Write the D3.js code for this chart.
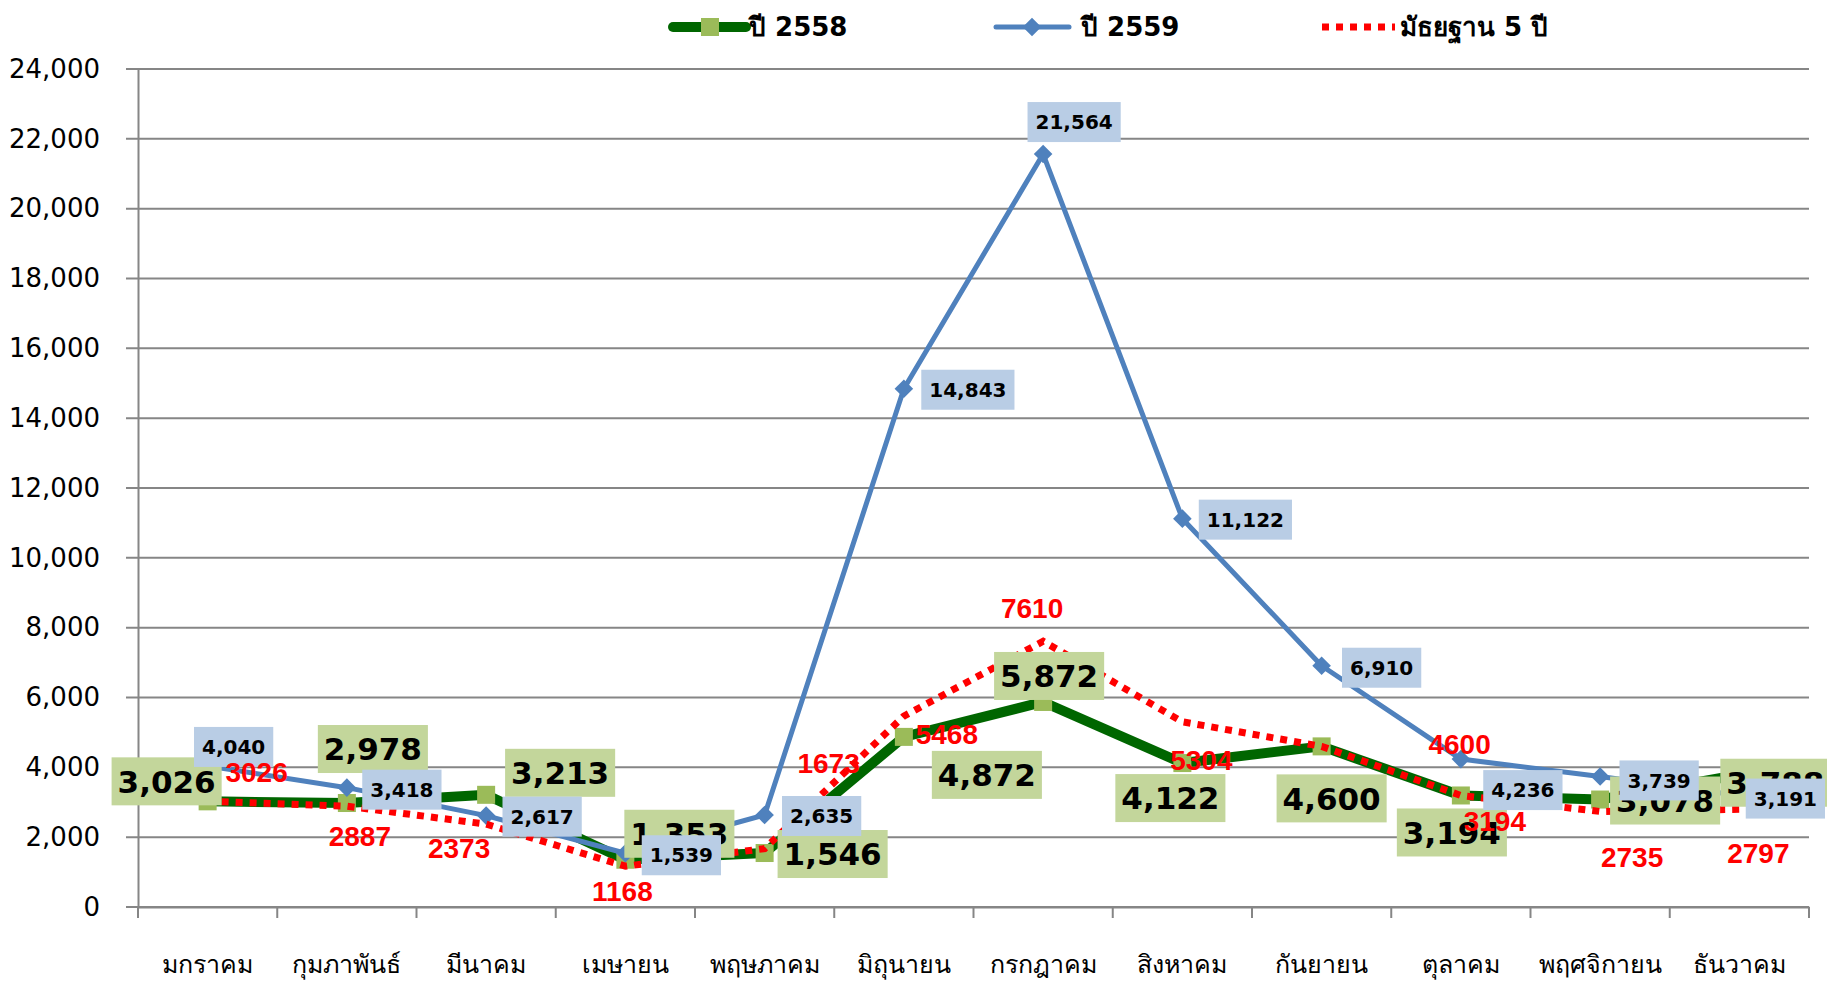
<!DOCTYPE html>
<html>
<head>
<meta charset="utf-8">
<script src="https://cdn.jsdelivr.net/npm/d3@7"></script>
<style>
body { margin: 0; background: #fff; }
svg { display: block; }
</style>
</head>
<body>
<svg id="chart"></svg>
<script>
var months = ['มกราคม', 'กุมภาพันธ์', 'มีนาคม', 'เมษายน', 'พฤษภาคม', 'มิถุนายน',
              'กรกฎาคม', 'สิงหาคม', 'กันยายน', 'ตุลาคม', 'พฤศจิกายน', 'ธันวาคม'];
var y2558 = [3026, 2978, 3213, 1353, 1546, 4872, 5872, 4122, 4600, 3194, 3078, 3788];
var y2559 = [4040, 3418, 2617, 1539, 2635, 14843, 21564, 11122, 6910, 4236, 3739, 3191];
var median5 = [3026, 2887, 2373, 1168, 1673, 5468, 7610, 5304, 4600, 3194, 2735, 2797];
var yTicks = [0, 2000, 4000, 6000, 8000, 10000, 12000, 14000, 16000, 18000, 20000, 22000, 24000];
var seriesNames = ['ปี 2558', 'ปี 2559', 'มัธยฐาน 5 ปี'];

// label offsets (px) from each point, placed by hand like in the original
var greenOff = [[-41,-20],[26,-54],[74,-22],[54,-26],[68,1],[83,38],[6,-26],[-12,35],[10,52],[-9,37],[65,1],[36,8]];
var blueOff = [[26,-19],[55,2],[56,1],[56,2],[57,1],[64,1],[31,-32],[63,1],[60,2],[62,31],[59,4],[46,3]];
var redOff = [[49,-29],[13,30],[-27,24],[-3,25],[64,-86],[43,18],[-11,-33],[19,38],[138,-2],[34,25],[32,45],[19,44]];

var width = 1827, height = 983;
var thai = "Tahoma, 'DejaVu Sans', 'Noto Sans', sans-serif";

var svg = d3.select('#chart').attr('width', width).attr('height', height);

var x = d3.scaleBand().domain(months).range([138, 1809]);
var y = d3.scaleLinear().domain([0, 24000]).range([907, 69]);
var cx = m => x(m) + x.bandwidth() / 2;

// grid
svg.append('g')
	.selectAll('line')
	.data(yTicks)
	.enter()
	.append('line')
	.attr('x1', 126).attr('x2', 1809)
	.attr('y1', d => y(d)).attr('y2', d => y(d))
	.attr('stroke', '#868686')
	.attr('stroke-width', 2);

var yAxis = svg.append('g')
	.attr('transform', 'translate(138,0)')
	.call(d3.axisLeft(y).tickValues(yTicks).tickFormat(d3.format(',')).tickSize(0).tickPadding(38));
yAxis.select('.domain').attr('stroke', '#868686').attr('stroke-width', 2);
yAxis.selectAll('text')
	.attr('font-family', "Tahoma, 'DejaVu Sans', sans-serif")
	.attr('font-size', 26)
	.attr('fill', '#000');

var xAxis = svg.append('g')
	.attr('transform', 'translate(0,907)')
	.call(d3.axisBottom(x).tickSize(0).tickPadding(48));
xAxis.select('.domain').attr('stroke', '#868686').attr('stroke-width', 2);
xAxis.selectAll('text')
	.attr('font-family', thai)
	.attr('font-size', 25)
	.attr('fill', '#000');

// category ticks at band edges
svg.append('g')
	.selectAll('line')
	.data(months.concat(['end']))
	.enter()
	.append('line')
	.attr('x1', (d, i) => i < months.length ? x(d) : x.range()[1])
	.attr('x2', (d, i) => i < months.length ? x(d) : x.range()[1])
	.attr('y1', 907).attr('y2', 918)
	.attr('stroke', '#868686')
	.attr('stroke-width', 2);

var line = d3.line().x((d, i) => cx(months[i])).y(d => y(d));

// 2558
svg.append('path')
	.datum(y2558)
	.attr('d', line)
	.attr('fill', 'none')
	.attr('stroke', '#006600')
	.attr('stroke-width', 10)
	.attr('stroke-linejoin', 'round');
svg.append('g')
	.selectAll('rect')
	.data(y2558)
	.enter()
	.append('rect')
	.attr('x', (d, i) => cx(months[i]) - 9)
	.attr('y', d => y(d) - 9)
	.attr('width', 18).attr('height', 18)
	.attr('fill', '#9bbb59');

// 2559
svg.append('path')
	.datum(y2559)
	.attr('d', line)
	.attr('fill', 'none')
	.attr('stroke', '#4f81bd')
	.attr('stroke-width', 5)
	.attr('stroke-linejoin', 'round');
svg.append('g')
	.selectAll('path')
	.data(y2559)
	.enter()
	.append('path')
	.attr('d', d3.symbol(d3.symbolDiamond2, 220))
	.attr('transform', (d, i) => `translate(${cx(months[i])},${y(d)})`)
	.attr('fill', '#4f81bd');

// median
svg.append('path')
	.datum(median5)
	.attr('d', line)
	.attr('fill', 'none')
	.attr('stroke', '#ff0000')
	.attr('stroke-width', 7)
	.attr('stroke-dasharray', '7,7');

// boxed labels
var boxLabels = function(vals, off, fill, size, padX, padY) {
	var g = svg.append('g');
	vals.forEach(function(v, i) {
		var px = cx(months[i]) + off[i][0];
		var py = y(v) + off[i][1];
		var rect = g.append('rect').attr('fill', fill);
		var t = g.append('text')
			.attr('x', px).attr('y', py)
			.attr('text-anchor', 'middle')
			.attr('dy', '0.36em')
			.attr('font-family', "Tahoma, 'DejaVu Sans', sans-serif")
			.attr('font-weight', 'bold')
			.attr('font-size', size)
			.attr('fill', '#000')
			.text(d3.format(',')(v));
		var b = t.node().getBBox();
		rect.attr('x', b.x - padX).attr('y', py - b.height / 2 - padY)
			.attr('width', b.width + padX * 2).attr('height', b.height + padY * 2);
	});
};
boxLabels(y2558, greenOff, '#c3d69b', 31, 6, 6);
boxLabels(y2559, blueOff, '#b9cde5', 20, 8, 8);

svg.append('g')
	.selectAll('text')
	.data(median5)
	.enter()
	.append('text')
	.attr('x', (d, i) => cx(months[i]) + redOff[i][0])
	.attr('y', (d, i) => y(d) + redOff[i][1])
	.attr('dy', '0.36em')
	.attr('text-anchor', 'middle')
	.attr('font-family', "'Liberation Sans', Arial, sans-serif")
	.attr('font-weight', 'bold')
	.attr('font-size', 28)
	.attr('fill', '#ff0000')
	.text(d => d);

// legend
var legend = svg.append('g').attr('transform', 'translate(0,27)');
var lx = [673, 996, 1322];
var lg = legend.selectAll('g')
	.data(seriesNames)
	.enter()
	.append('g')
	.attr('transform', (d, i) => `translate(${lx[i]},0)`);
lg.append('line')
	.attr('x1', 0).attr('x2', 73).attr('y1', 0).attr('y2', 0)
	.attr('stroke', (d, i) => ['#006600', '#4f81bd', '#ff0000'][i])
	.attr('stroke-width', (d, i) => [10, 5, 7][i])
	.attr('stroke-linecap', (d, i) => i < 2 ? 'round' : 'butt')
	.attr('stroke-dasharray', (d, i) => i === 2 ? '7,7' : null);
lg.filter((d, i) => i === 0).append('rect')
	.attr('x', 28).attr('y', -9).attr('width', 18).attr('height', 18)
	.attr('fill', '#9bbb59');
lg.filter((d, i) => i === 1).append('path')
	.attr('d', d3.symbol(d3.symbolDiamond2, 220))
	.attr('transform', 'translate(36,0)')
	.attr('fill', '#4f81bd');
lg.append('text')
	.attr('x', (d, i) => [76, 85, 78][i])
	.attr('dy', '0.36em')
	.attr('font-family', thai)
	.attr('font-weight', 'bold')
	.attr('font-size', 26)
	.attr('fill', '#000')
	.text(d => d);
</script>
</body>
</html>
